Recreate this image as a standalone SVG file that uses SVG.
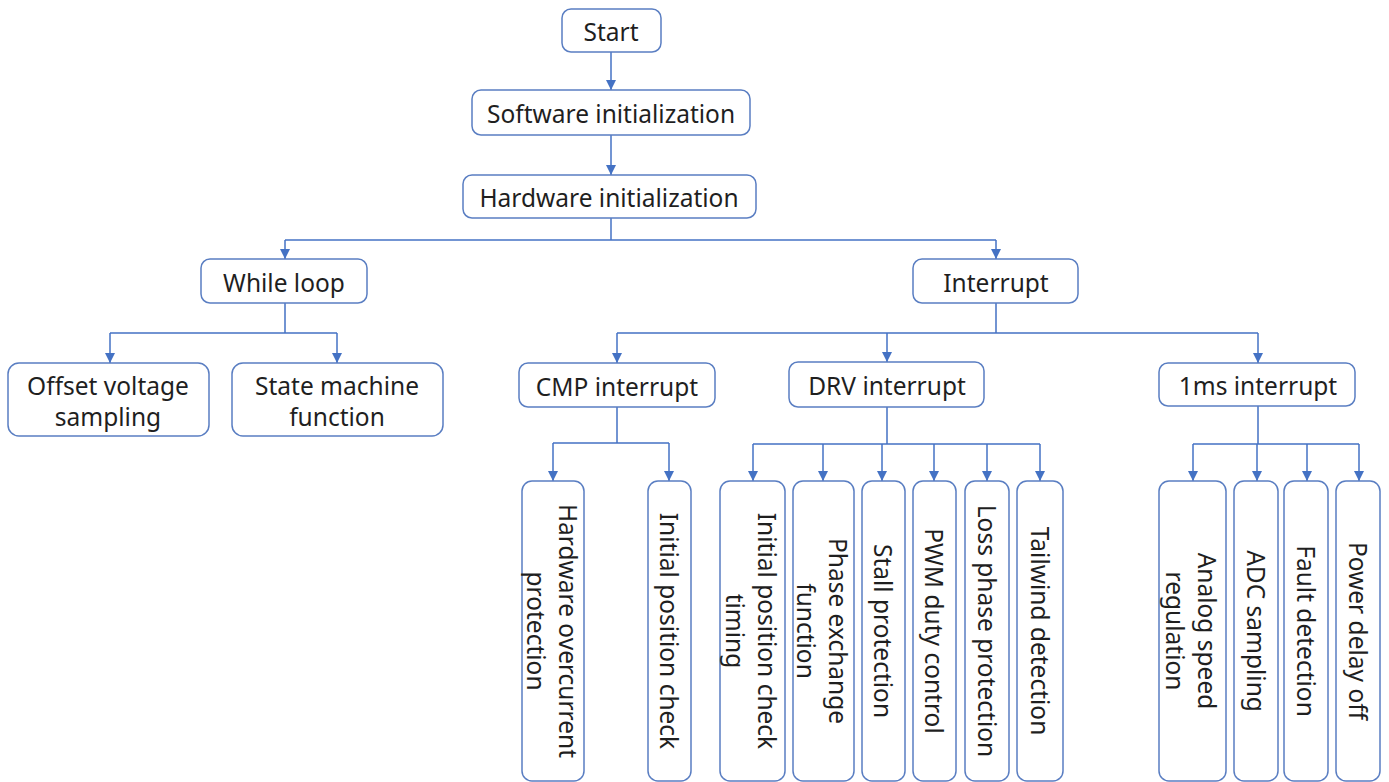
<svg xmlns="http://www.w3.org/2000/svg" width="1389" height="782" viewBox="0 0 1389 782">
<defs>
<marker id="ah" markerWidth="10" markerHeight="10" refX="10" refY="5" orient="auto" markerUnits="userSpaceOnUse" viewBox="0 0 10 10">
<path d="M0,0 L10,5 L0,10 Z" fill="#4472C4"/>
</marker>
<style>
.box{fill:#fff;stroke:#5A7EC2;stroke-width:1.5}
.t{font-family:"Noto Sans","Open Sans","Liberation Sans",sans-serif;font-size:24.5px;fill:#1f1f1f;text-anchor:middle;dominant-baseline:central}
.c{fill:none;stroke:#4472C4;stroke-width:1.5}
</style>
</defs>
<rect width="1389" height="782" fill="#fff"/>
<g id="connectors">
<path class="c" d="M611,52 V90" marker-end="url(#ah)"/>
<path class="c" d="M611,135 V175" marker-end="url(#ah)"/>
<path class="c" d="M611,218 V240"/>
<path class="c" d="M285,240 H996"/>
<path class="c" d="M285,240 V259" marker-end="url(#ah)"/>
<path class="c" d="M996,240 V259" marker-end="url(#ah)"/>
<path class="c" d="M285,303 V333 M110,333 H337"/>
<path class="c" d="M110,333 V363" marker-end="url(#ah)"/>
<path class="c" d="M337,333 V363" marker-end="url(#ah)"/>
<path class="c" d="M996,303 V333 M617,333 H1258"/>
<path class="c" d="M617,333 V363" marker-end="url(#ah)"/>
<path class="c" d="M887,333 V362" marker-end="url(#ah)"/>
<path class="c" d="M1258,333 V363" marker-end="url(#ah)"/>
<path class="c" d="M617,407 V443 M553,443 H669"/>
<path class="c" d="M553,443 V481" marker-end="url(#ah)"/>
<path class="c" d="M669,443 V481" marker-end="url(#ah)"/>
<path class="c" d="M887,407 V444 M753,444 H1040"/>
<path class="c" d="M753,444 V481" marker-end="url(#ah)"/>
<path class="c" d="M823,444 V481" marker-end="url(#ah)"/>
<path class="c" d="M882,444 V481" marker-end="url(#ah)"/>
<path class="c" d="M934,444 V481" marker-end="url(#ah)"/>
<path class="c" d="M987,444 V481" marker-end="url(#ah)"/>
<path class="c" d="M1040,444 V481" marker-end="url(#ah)"/>
<path class="c" d="M1258,406 V444 M1193,444 H1359"/>
<path class="c" d="M1193,444 V481" marker-end="url(#ah)"/>
<path class="c" d="M1257,444 V481" marker-end="url(#ah)"/>
<path class="c" d="M1307,444 V481" marker-end="url(#ah)"/>
<path class="c" d="M1359,444 V481" marker-end="url(#ah)"/>
</g>
<g id="start"><rect class="box" x="562" y="9" width="99" height="43" rx="9"/><text class="t" x="611" y="31">Start</text></g>
<g id="sw"><rect class="box" x="472" y="90" width="278" height="45" rx="9"/><text class="t" x="611" y="113">Software initialization</text></g>
<g id="hw"><rect class="box" x="463" y="175" width="293" height="43" rx="9"/><text class="t" x="609" y="197">Hardware initialization</text></g>
<g id="while"><rect class="box" x="201" y="259" width="166" height="44" rx="9"/><text class="t" x="284" y="282">While loop</text></g>
<g id="interrupt"><rect class="box" x="913" y="259" width="165" height="44" rx="9"/><text class="t" x="996" y="282">Interrupt</text></g>
<g id="offset"><rect class="box" x="8" y="363" width="201" height="73" rx="11"/><text class="t" x="108"><tspan x="108" y="385">Offset voltage</tspan><tspan x="108" y="416">sampling</tspan></text></g>
<g id="state"><rect class="box" x="232" y="363" width="211" height="73" rx="11"/><text class="t" x="337"><tspan x="337" y="385">State machine</tspan><tspan x="337" y="416">function</tspan></text></g>
<g id="cmp"><rect class="box" x="519" y="363" width="196" height="44" rx="9"/><text class="t" x="617" y="386">CMP interrupt</text></g>
<g id="drv"><rect class="box" x="789" y="362" width="195" height="45" rx="9"/><text class="t" x="887" y="385">DRV interrupt</text></g>
<g id="ms1"><rect class="box" x="1159" y="363" width="196" height="43" rx="9"/><text class="t" x="1258" y="385">1ms interrupt</text></g>
<g id="hwoc"><rect class="box" x="522" y="481" width="62" height="300" rx="10"/><text class="t" transform="translate(553,631) rotate(90)"><tspan x="0" y="-16">Hardware overcurrent</tspan><tspan x="0" y="16">protection</tspan></text></g>
<g id="ipc"><rect class="box" x="648" y="481" width="43" height="300" rx="10"/><text class="t" transform="translate(669,631) rotate(90)">Initial position check</text></g>
<g id="ipct"><rect class="box" x="720" y="481" width="65" height="300" rx="10"/><text class="t" transform="translate(752,631) rotate(90)"><tspan x="0" y="-16">Initial position check</tspan><tspan x="0" y="16">timing</tspan></text></g>
<g id="phase"><rect class="box" x="793" y="481" width="61" height="300" rx="10"/><text class="t" transform="translate(823,631) rotate(90)"><tspan x="0" y="-16">Phase exchange</tspan><tspan x="0" y="16">function</tspan></text></g>
<g id="stall"><rect class="box" x="862" y="481" width="43" height="300" rx="10"/><text class="t" transform="translate(883,631) rotate(90)">Stall protection</text></g>
<g id="pwm"><rect class="box" x="913" y="481" width="43" height="300" rx="10"/><text class="t" transform="translate(934,631) rotate(90)">PWM duty control</text></g>
<g id="loss"><rect class="box" x="965" y="481" width="44" height="300" rx="10"/><text class="t" transform="translate(987,631) rotate(90)">Loss phase protection</text></g>
<g id="tail"><rect class="box" x="1017" y="481" width="46" height="300" rx="10"/><text class="t" transform="translate(1040,631) rotate(90)">Tailwind detection</text></g>
<g id="analog"><rect class="box" x="1159" y="481" width="67" height="300" rx="10"/><text class="t" transform="translate(1192,631) rotate(90)"><tspan x="0" y="-16">Analog speed</tspan><tspan x="0" y="16">regulation</tspan></text></g>
<g id="adc"><rect class="box" x="1234" y="481" width="44" height="300" rx="10"/><text class="t" transform="translate(1256,631) rotate(90)">ADC sampling</text></g>
<g id="fault"><rect class="box" x="1284" y="481" width="44" height="300" rx="10"/><text class="t" transform="translate(1306,631) rotate(90)">Fault detection</text></g>
<g id="power"><rect class="box" x="1336" y="481" width="44" height="300" rx="10"/><text class="t" transform="translate(1358,631) rotate(90)">Power delay off</text></g>
</svg>
